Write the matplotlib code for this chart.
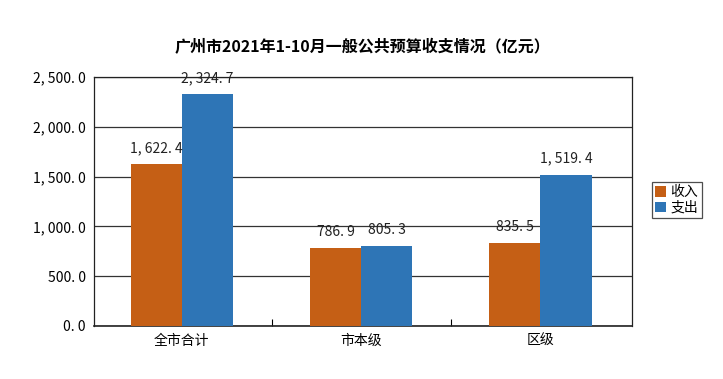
import matplotlib
matplotlib.use("Agg")
import matplotlib.pyplot as plt
import numpy as np
from matplotlib.ticker import FixedLocator

plt.rcParams['font.family'] = ['Noto Sans CJK SC', 'DejaVu Sans']

categories = ["全市合计", "市本级", "区级"]
income = [1622.4, 786.9, 835.5]
expense = [2324.7, 805.3, 1519.4]
income_labels = ["1, 622. 4", "786. 9", "835. 5"]
expense_labels = ["2, 324. 7", "805. 3", "1, 519. 4"]
yticks = [0, 500, 1000, 1500, 2000, 2500]
ytick_labels = ["0. 0", "500. 0", "1, 000. 0", "1, 500. 0", "2, 000. 0", "2, 500. 0"]
title = "广州市2021年1-10月一般公共预算收支情况（亿元）"
series_names = ["收入", "支出"]

c_inc = "#C55F15"
c_exp = "#2E75B6"

fig = plt.figure(figsize=(7.23, 3.79), dpi=100)
ax = fig.add_axes([0.130, 0.140, 0.744, 0.657])

x = np.arange(len(categories))
w = 0.285
b1 = ax.bar(x - w/2, income, w, color=c_inc, label=series_names[0], zorder=3)
b2 = ax.bar(x + w/2, expense, w, color=c_exp, label=series_names[1], zorder=3)

for rect, lab in zip(b1, income_labels):
    ax.text(rect.get_x() + rect.get_width()/2, rect.get_height() + 90, lab,
            ha='center', va='bottom', fontsize=10, color='#222222')
for rect, lab in zip(b2, expense_labels):
    ax.text(rect.get_x() + rect.get_width()/2, rect.get_height() + 90, lab,
            ha='center', va='bottom', fontsize=10, color='#222222')

ax.set_xlim(-0.49, 2.51)
ax.set_ylim(0, 2500)
ax.set_yticks(yticks)
ax.set_yticklabels(ytick_labels, fontsize=10)
ax.set_xticks(x)
ax.set_xticklabels(categories, fontsize=10)
ax.tick_params(axis='x', length=0, pad=6)
ax.tick_params(axis='y', length=0, pad=6)
ax.xaxis.set_minor_locator(FixedLocator([0.5, 1.5]))
ax.tick_params(axis='x', which='minor', length=5, direction='in', width=0.8)
ax.yaxis.grid(True, color='#333333', linewidth=0.9, zorder=0)
for s in ax.spines.values():
    s.set_color('#222222')
    s.set_linewidth(0.9)
ax.spines['bottom'].set_linewidth(1.2)

ax.set_title(title, fontsize=11.5, fontweight='bold', pad=18)

leg = fig.legend(handles=[b1, b2], labels=series_names, loc='center left',
                 bbox_to_anchor=(0.892, 0.472), fontsize=10, frameon=True,
                 fancybox=False, handlelength=0.8, handleheight=0.8,
                 handletextpad=0.3, borderpad=0.25, labelspacing=0.1)
leg.get_frame().set_edgecolor('#222222')
leg.get_frame().set_linewidth(0.9)

fig.savefig("out.png", dpi=100)
